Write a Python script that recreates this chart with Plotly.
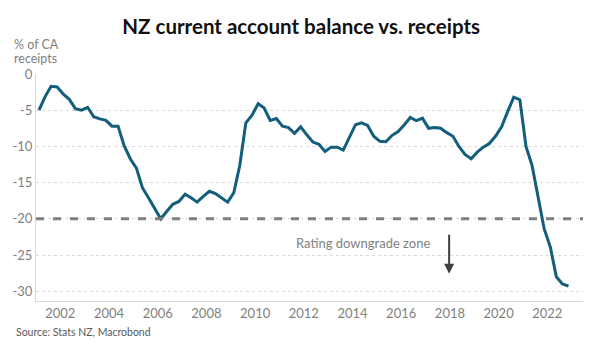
import pandas as pd
import plotly.graph_objects as go

# Quarterly data, 2001Q1 .. 2022Q4 (% of current account receipts)
start_quarter = "2001Q1"
end_quarter = "2022Q4"
ca_balance = [
    -5.0, -3.15, -1.7, -1.8,      # 2001
    -2.8, -3.5, -4.8, -5.0,       # 2002
    -4.6, -5.9, -6.2, -6.4,       # 2003
    -7.2, -7.2, -9.9, -11.7,      # 2004
    -13.0, -15.7, -17.1, -18.5,   # 2005
    -20.0, -19.0, -18.0, -17.6,   # 2006
    -16.6, -17.1, -17.7, -16.9,   # 2007
    -16.2, -16.5, -17.1, -17.7,   # 2008
    -16.4, -12.6, -6.75, -5.7,    # 2009
    -4.1, -4.7, -6.4, -6.15,      # 2010
    -7.2, -7.4, -8.2, -7.3,       # 2011
    -8.4, -9.4, -9.7, -10.7,      # 2012
    -10.1, -10.1, -10.5, -8.7,    # 2013
    -7.0, -6.75, -7.1, -8.6,      # 2014
    -9.3, -9.35, -8.5, -7.95,     # 2015
    -7.05, -6.0, -6.45, -6.1,     # 2016
    -7.5, -7.4, -7.5, -8.1,       # 2017
    -8.6, -10.0, -11.1, -11.7,    # 2018
    -10.8, -10.1, -9.6, -8.6,     # 2019
    -7.3, -5.2, -3.2, -3.55,      # 2020
    -10.0, -12.6, -16.8, -21.4,   # 2021
    -23.9, -28.0, -29.0, -29.3,   # 2022
]
threshold = -20
y_ticks = [0, -5, -10, -15, -20, -25, -30]
y_tick_labels = ["0", "-5", "-10", "-15", "-20", "-25", "-30"]

quarters = pd.period_range(start_quarter, end_quarter, freq="Q")
dates = [q.start_time + pd.Timedelta(days=45) for q in quarters]

LINE = "#135E7C"
GRAY = "#7F7F7F"
FONT = "Lato"

fig = go.Figure()
fig.add_trace(go.Scatter(
    x=dates, y=ca_balance, mode="lines",
    line=dict(color=LINE, width=3), hoverinfo="skip", showlegend=False,
))

fig.add_shape(type="line", xref="paper", x0=0, x1=1, yref="y", y0=threshold, y1=threshold,
              line=dict(color=GRAY, width=3, dash="8px,9px"), layer="above")

fig.add_annotation(x="2014-06-05", y=-23.4, xref="x", yref="y", text="Rating downgrade zone",
                   showarrow=False, font=dict(family=FONT, size=13, color=GRAY))
fig.add_annotation(x="2017-12-20", y=-27.6, ax="2017-12-20", ay=-22.0, xref="x", yref="y",
                   axref="x", ayref="y", text="", showarrow=True, arrowhead=2, arrowsize=1,
                   arrowwidth=2, arrowcolor="#3F3F3F")

fig.add_annotation(x=-0.0436, y=1.13, xref="paper", yref="paper", xanchor="left", yanchor="middle",
                   align="left", text="% of CA", showarrow=False,
                   font=dict(family=FONT, size=12.5, color=GRAY))
fig.add_annotation(x=-0.0436, y=1.068, xref="paper", yref="paper", xanchor="left", yanchor="middle",
                   align="left", text="receipts", showarrow=False,
                   font=dict(family=FONT, size=12.5, color=GRAY))
fig.add_annotation(x=-0.040, y=-0.138, xref="paper", yref="paper", xanchor="left", yanchor="middle",
                   text="Source: Stats NZ, Macrobond", showarrow=False,
                   font=dict(family=FONT, size=10.5, color="#595959"))

fig.update_layout(
    width=600, height=353,
    margin=dict(l=32, r=17, t=74, b=52),
    paper_bgcolor="white", plot_bgcolor="white",
    title=dict(text="<b>NZ current account balance vs. receipts</b>", x=0.502, xanchor="center",
               y=0.925, yanchor="middle", font=dict(family=FONT, size=20.5, color="#111111")),
    xaxis=dict(
        type="date", range=["2001-01-01", "2023-06-20"],
        tick0="2002-01-01", dtick="M24", tickformat="%Y",
        showgrid=False, showline=True, linecolor="#D9D9D9", linewidth=1,
        ticks="", tickfont=dict(family=FONT, size=13, color=GRAY), zeroline=False,
    ),
    yaxis=dict(
        range=[-31.35, 0], tickvals=y_ticks, ticktext=y_tick_labels,
        showgrid=True, gridcolor="#D9D9D9", gridwidth=1, griddash="dot",
        showline=True, linecolor="#D9D9D9", linewidth=1, zeroline=False,
        ticks="", tickfont=dict(family=FONT, size=13, color=GRAY),
    ),
)

fig.write_html("out.html")
